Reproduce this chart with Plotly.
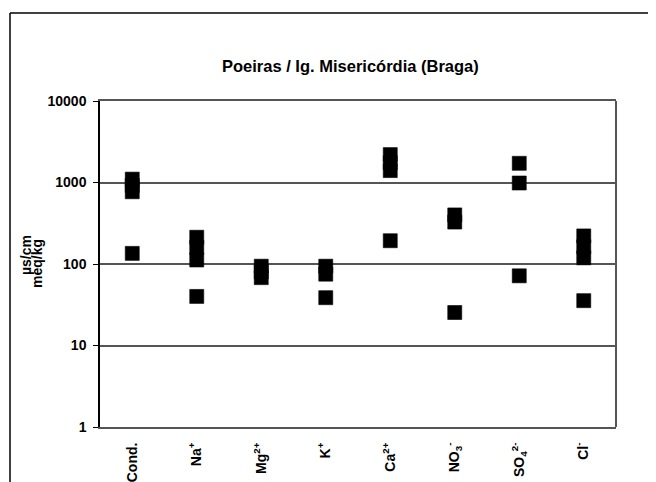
import plotly.graph_objects as go

categories = ["Cond.", "Na+", "Mg2+", "K+", "Ca2+", "NO3-", "SO42-", "Cl-"]
tick_labels = ["Cond.", "Na<sup>+</sup>", "Mg<sup>2+</sup>", "K<sup>+</sup>", "Ca<sup>2+</sup>",
               "NO<sub>3</sub><sup>-</sup>", "SO<sub>4</sub><sup>2-</sup>", "Cl<sup>-</sup>"]

cond_values = [1100, 920, 770, 135]
na_values = [213, 160, 112, 40]
mg_values = [94, 80, 68]
k_values = [94, 75, 38.6]
ca_values = [2200, 1750, 1400, 193]
no3_values = [400, 327, 25.4]
so4_values = [1720, 986, 71.6]
cl_values = [221, 163, 119, 35.5]

y_tick_vals = [1, 10, 100, 1000, 10000]
y_tick_text = ["1", "10", "100", "1000", "10000"]

series = [cond_values, na_values, mg_values, k_values, ca_values, no3_values, so4_values, cl_values]
xs, ys = [], []
for cat, vals in zip(categories, series):
    for v in vals:
        xs.append(cat)
        ys.append(v)

FONT = "Arial, Liberation Sans, sans-serif"

fig = go.Figure()
fig.add_trace(go.Scatter(
    x=xs, y=ys, mode="markers",
    marker=dict(symbol="square", size=14, color="black", line=dict(width=0.6, color="black")),
    showlegend=False, hoverinfo="x+y",
))

OFF = 8  # page body margin
W, H = 648, 474
L, R, T, B = 92, 40, 93, 55
pw, ph = W - L - R, H - T - B

def px_x(p):
    return (p - OFF - L) / pw

def px_y(p):
    return (H - B - (p - OFF)) / ph

fig.update_layout(
    width=W, height=H,
    margin=dict(l=L, r=R, t=T, b=B, pad=0, autoexpand=False),
    paper_bgcolor="white", plot_bgcolor="white",
    font=dict(family=FONT, size=14, color="black"),
    xaxis=dict(
        type="category", categoryorder="array", categoryarray=categories,
        range=[-0.5, 7.5], automargin=False,
        tickmode="array", tickvals=categories, ticktext=tick_labels,
        tickangle=-90, tickfont=dict(family=FONT, size=14, color="black", weight="bold"),
        showgrid=False, zeroline=False,
        showline=True, linecolor="#555", linewidth=2, mirror=True,
        ticks="", ticklabelstandoff=8,
    ),
    yaxis=dict(
        type="log", range=[0, 4], automargin=False,
        tickmode="array", tickvals=y_tick_vals, ticktext=y_tick_text,
        tickfont=dict(family=FONT, size=14, color="black", weight="bold"),
        showgrid=True, gridcolor="#555", gridwidth=2,
        showline=True, linecolor="black", linewidth=1.5,
        ticks="outside", ticklen=5, tickcolor="black", tickwidth=1,
        ticklabelstandoff=4,
        zeroline=False,
    ),
    annotations=[
        dict(text="Poeiras / Ig. Misericórdia (Braga)",
             x=px_x(350), y=px_y(66), xref="paper", yref="paper",
             xanchor="center", yanchor="middle",
             showarrow=False, font=dict(family=FONT, size=16.5, color="black", weight="bold")),
        dict(text="µs/cm", textangle=-90,
             x=px_x(25.5), y=px_y(255.5), xref="paper", yref="paper",
             xanchor="center", yanchor="middle",
             showarrow=False, font=dict(family=FONT, size=14, color="black", weight="bold")),
        dict(text="meq/kg", textangle=-90,
             x=px_x(37), y=px_y(264), xref="paper", yref="paper",
             xanchor="center", yanchor="middle",
             showarrow=False, font=dict(family=FONT, size=14, color="black", weight="bold")),
    ],
    shapes=[
        dict(type="line", xref="paper", yref="paper", x0=1, x1=1, y0=0, y1=1,
             line=dict(color="#555", width=2)),
        dict(type="line", xref="paper", yref="paper", x0=px_x(10), x1=px_x(660), y0=px_y(13), y1=px_y(13),
             line=dict(color="black", width=1.5)),
        dict(type="line", xref="paper", yref="paper", x0=px_x(10), x1=px_x(10), y0=px_y(13), y1=px_y(490),
             line=dict(color="black", width=1.5)),
    ],
)

fig.write_html("out.html")
